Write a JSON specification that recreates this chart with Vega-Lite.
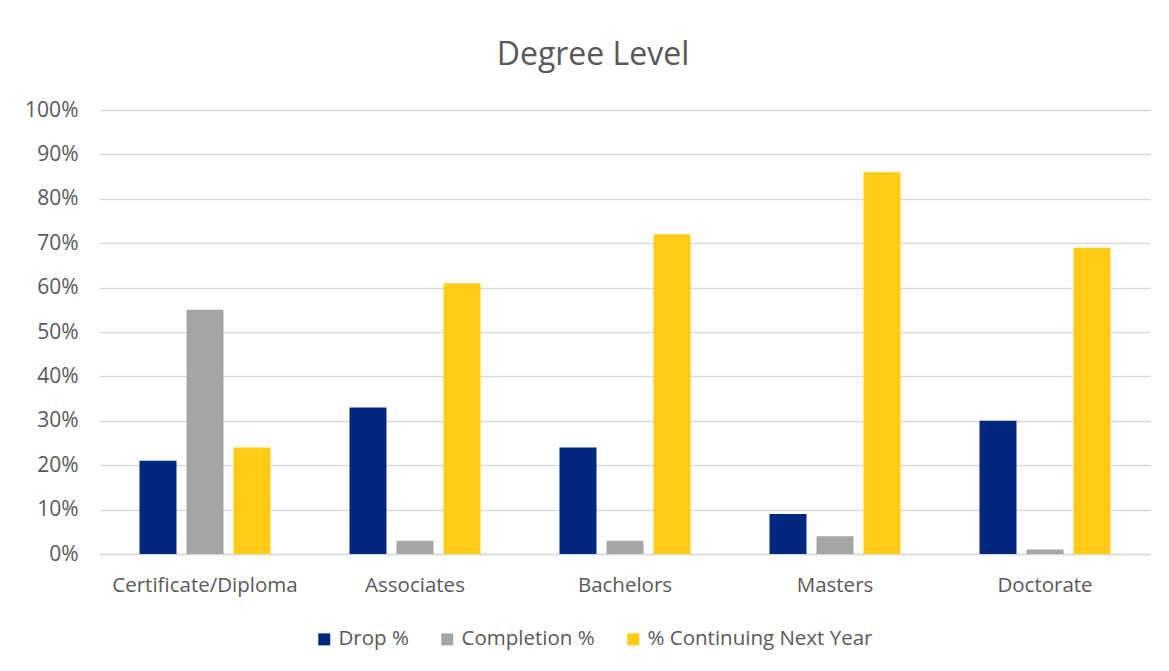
{
  "$schema": "https://vega.github.io/schema/vega-lite/v6.json",
  "autosize": "none",
  "width": 1050,
  "height": 444,
  "padding": {"left": 100, "top": 110, "right": 19, "bottom": 117},
  "background": "white",
  "title": {
    "text": "Degree Level",
    "font": "Open Sans",
    "fontSize": 32,
    "fontWeight": "normal",
    "color": "#595959",
    "anchor": "middle",
    "dx": -32,
    "offset": 27
  },
  "data": {
    "values": [
      {"level": "Certificate/Diploma", "series": "Drop %", "value": 0.21},
      {"level": "Certificate/Diploma", "series": "Completion %", "value": 0.55},
      {"level": "Certificate/Diploma", "series": "% Continuing Next Year", "value": 0.24},
      {"level": "Associates", "series": "Drop %", "value": 0.33},
      {"level": "Associates", "series": "Completion %", "value": 0.03},
      {"level": "Associates", "series": "% Continuing Next Year", "value": 0.61},
      {"level": "Bachelors", "series": "Drop %", "value": 0.24},
      {"level": "Bachelors", "series": "Completion %", "value": 0.03},
      {"level": "Bachelors", "series": "% Continuing Next Year", "value": 0.72},
      {"level": "Masters", "series": "Drop %", "value": 0.09},
      {"level": "Masters", "series": "Completion %", "value": 0.04},
      {"level": "Masters", "series": "% Continuing Next Year", "value": 0.86},
      {"level": "Doctorate", "series": "Drop %", "value": 0.30},
      {"level": "Doctorate", "series": "Completion %", "value": 0.01},
      {"level": "Doctorate", "series": "% Continuing Next Year", "value": 0.69}
    ]
  },
  "mark": {"type": "bar"},
  "encoding": {
    "x": {
      "field": "level",
      "type": "nominal",
      "sort": ["Certificate/Diploma", "Associates", "Bachelors", "Masters", "Doctorate"],
      "scale": {"paddingInner": 0, "paddingOuter": 0},
      "axis": {
        "title": null,
        "labelAngle": 0,
        "ticks": false,
        "domain": true,
        "domainColor": "#d9d9d9",
        "domainWidth": 1.5,
        "labelFont": "Open Sans",
        "labelFontSize": 20.5,
        "labelColor": "#595959",
        "labelPadding": 21,
        "labelLimit": 400
      }
    },
    "xOffset": {
      "field": "series",
      "type": "nominal",
      "sort": ["Drop %", "Completion %", "% Continuing Next Year"],
      "scale": {"paddingInner": 0.2128, "paddingOuter": 0.84}
    },
    "y": {
      "field": "value",
      "type": "quantitative",
      "scale": {"domain": [0, 1], "nice": false},
      "axis": {
        "title": null,
        "format": ".0%",
        "values": [0, 0.1, 0.2, 0.3, 0.4, 0.5, 0.6, 0.7, 0.8, 0.9, 1],
        "labelOverlap": false,
        "ticks": false,
        "domain": false,
        "grid": true,
        "gridColor": "#d9d9d9",
        "gridWidth": 1.5,
        "labelFont": "Open Sans",
        "labelFontSize": 21,
        "labelColor": "#595959",
        "labelPadding": 22
      }
    },
    "color": {
      "field": "series",
      "type": "nominal",
      "sort": ["Drop %", "Completion %", "% Continuing Next Year"],
      "scale": {
        "domain": ["Drop %", "Completion %", "% Continuing Next Year"],
        "range": ["#00287f", "#a5a5a5", "#ffcb17"]
      },
      "legend": {
        "title": null,
        "orient": "none",
        "direction": "horizontal",
        "legendX": 214,
        "legendY": 519,
        "padding": 0,
        "symbolType": "square",
        "symbolSize": 144,
        "symbolStrokeWidth": 0,
        "labelFont": "Open Sans",
        "labelFontSize": 20.5,
        "labelColor": "#595959",
        "labelOffset": 4,
        "labelLimit": 400,
        "columnPadding": 28
      }
    }
  },
  "config": {
    "view": {"stroke": null}
  }
}
